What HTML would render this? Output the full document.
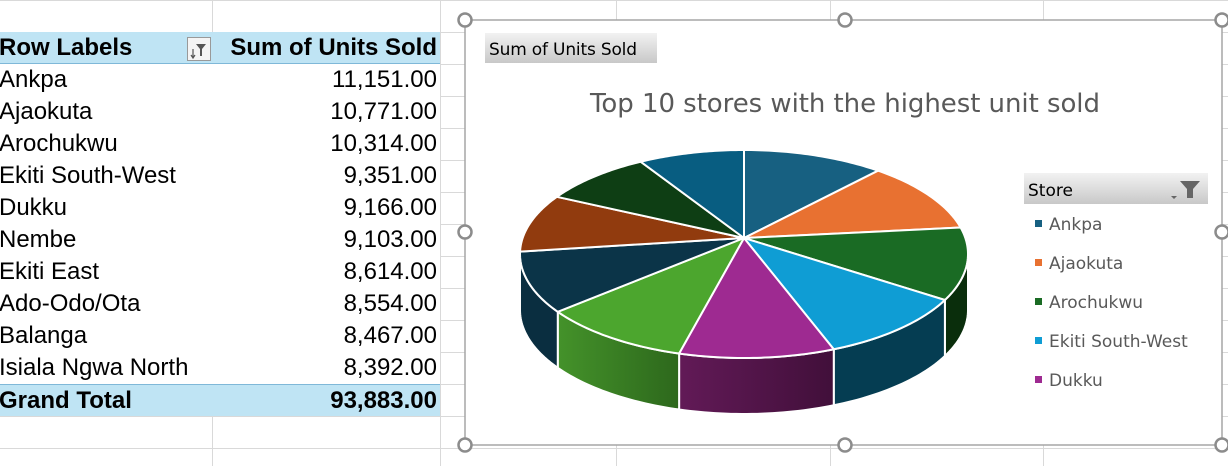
<!DOCTYPE html>
<html><head><meta charset="utf-8">
<style>
body{margin:0;width:1228px;height:466px;overflow:hidden;background:#fff;font-family:"Liberation Sans",Arial,sans-serif;position:relative}
.cell{position:absolute;left:0;width:440px;height:32px;font-size:24px;line-height:32px;color:#000;background:#fff}
.cell .l{position:absolute;left:-1px}
.cell .v{position:absolute;right:3px}
</style></head><body>
<svg width="1228" height="466" style="position:absolute;left:0;top:0">
<g stroke="#d9d9d9" stroke-width="1" id="grid"></g>
</svg>
<div id="table" style="position:absolute;left:0;top:0;width:440px;height:466px"></div>
<svg id="chart" width="1228" height="466" style="position:absolute;left:0;top:0">
<defs>
<linearGradient id="gPurple" x1="0" x2="1"><stop offset="0" stop-color="#621a57"/><stop offset="1" stop-color="#410f3a"/></linearGradient>
<linearGradient id="gGreen" x1="0" x2="1"><stop offset="0" stop-color="#44922a"/><stop offset="1" stop-color="#2d681c"/></linearGradient>
<linearGradient id="gBtn" x1="0" y1="0" x2="0" y2="1"><stop offset="0" stop-color="#f2f2f2"/><stop offset="1" stop-color="#c8c8c8"/></linearGradient>
</defs>
<rect x="465" y="20" width="757" height="425" fill="#fff" stroke="#a6a6a6" stroke-width="1.5"/>
<g>
<rect x="485" y="33" width="172" height="30" fill="url(#gBtn)"/>
<text x="489" y="55" font-size="17" fill="#000" font-family="DejaVu Sans, sans-serif" textLength="148">Sum of Units Sold</text></g>
<text x="845" y="112" text-anchor="middle" font-size="26" fill="#595959" font-family="DejaVu Sans, sans-serif" textLength="510">Top 10 stores with the highest unit sold</text>
<g id="sides"></g><g id="tops"></g>
<g>
<rect x="1024" y="173" width="184" height="31" fill="url(#gBtn)"/>
<text x="1028" y="196" font-size="17" fill="#000" font-family="DejaVu Sans, sans-serif">Store</text>
<path d="M1171 196 l6 0 l-3 3z M1180 181 h20 l-7 8 v9 h-6 v-9z" fill="#666"/></g>
<g id="legend"></g>
<g id="handles"></g>
</svg>
<script>
const stores=["Ankpa","Ajaokuta","Arochukwu","Ekiti South-West","Dukku","Nembe","Ekiti East","Ado-Odo/Ota","Balanga","Isiala Ngwa North"];
const units=[11151,10771,10314,9351,9166,9103,8614,8554,8467,8392];
const totalLabel="93,883.00";
const colors=["#176081","#e87131","#1a6b24","#0f9dd4","#9e2a91","#4ca62e","#0b3448","#913b0e","#0e3e14","#085d81"];
const sideColors=["#0f4660","#a4501f","#0a2e0c","#053d52","url(#gPurple)","url(#gGreen)","#0a2e40","#5e270a","#082a0c","#06405a"];
const NS="http://www.w3.org/2000/svg";
function mk(t,a,p){const e=document.createElementNS(NS,t);for(const k in a)e.setAttribute(k,a[k]);p.appendChild(e);return e;}
const grid=document.getElementById('grid');
for(let y=0;y<=466;y+=32){mk('line',{x1:0,x2:1228,y1:y+0.5,y2:y+0.5},grid);}
[212,440,616,830,1043,1228].forEach(x=>mk('line',{x1:x+0.5,x2:x+0.5,y1:0,y2:466},grid));
const tb=document.getElementById('table');
function row(y,l,v,bold,bg){const d=document.createElement('div');d.className='cell';d.style.top=y+'px';
 
 if(bg)d.style.background=bg;if(bold)d.style.fontWeight='bold';
 d.innerHTML='<span class="l">'+l+'</span><span class="v">'+v+'</span>';tb.appendChild(d);return d;}
const h=row(32,'Row Labels','Sum of Units Sold',true,'#bfe4f4');h.style.borderBottom='1px solid #7fb8d8';h.style.height='31px';
const fb=document.createElement('div');
fb.style.cssText='position:absolute;left:187px;top:5px;width:22px;height:22px;border:1px solid #999;background:#f4f4f4';
fb.innerHTML='<svg width="22" height="22"><path d="M8 5h10l-4 5v7h-2v-7z" fill="#555"/><path d="M5 10v8M3 16l2 3 2-3" stroke="#555" fill="none" stroke-width="1.2"/></svg>';h.appendChild(fb);
stores.forEach((s,i)=>row(64+i*32,s,units[i].toLocaleString('en-US',{minimumFractionDigits:2}),false));
const gt=row(384,'Grand Total',totalLabel,true,'#bfe4f4');gt.style.borderTop='1px solid #7fb8d8';gt.style.height='31px';
// pie
const cx=744,cy=254,rx=224,ry=104,depth=56,ax=744,ay=238;
const tot=units.reduce((a,b)=>a+b,0);
const P=(t,d)=>[cx+rx*Math.sin(t),cy-ry*Math.cos(t)+(d||0)];
// parametric angle of rim point hit by ray from apex in slice direction
function rimAng(th){
 const dx=rx*Math.sin(th),dy=-ry*Math.cos(th),oy=ay-cy;
 const A=(dx/rx)**2+(dy/ry)**2,B=2*oy*dy/ry/ry,C=(oy/ry)**2-1;
 const t=(-B+Math.sqrt(B*B-4*A*C))/(2*A);
 const x=dx*t,y=oy+dy*t;
 let p=Math.atan2(x/rx,-y/ry);if(p<0)p+=2*Math.PI;if(th>=2*Math.PI-1e-9)p=2*Math.PI;if(th<=1e-9)p=0;return p;}
const sides=document.getElementById('sides'),tops=document.getElementById('tops');
let a=0;
units.forEach((u,i)=>{
 const b=a+u/tot*2*Math.PI;
 const pa=rimAng(a),pb=rimAng(b);
 const s0=Math.max(pa,Math.PI/2),s1=Math.min(pb,3*Math.PI/2);
 if(s1>s0){let pts=[];const n=30;
  for(let k=0;k<=n;k++)pts.push(P(s0+(s1-s0)*k/n));
  for(let k=n;k>=0;k--)pts.push(P(s0+(s1-s0)*k/n,depth));
  const e=mk('polygon',{points:pts.map(p=>p.join(',')).join(' '),fill:sideColors[i],stroke:'#fff','stroke-width':2},sides);
  }
 let pts=[[ax,ay]];const n=40;
 for(let k=0;k<=n;k++)pts.push(P(pa+(pb-pa)*k/n));
 const e=mk('polygon',{points:pts.map(p=>p.join(',')).join(' '),fill:colors[i],stroke:'#fff','stroke-width':2,'stroke-linejoin':'round'},tops);
 
 a=b;});
const lg=document.getElementById('legend');
for(let i=0;i<5;i++){const y=224+i*39;
 const g=mk('g',{},lg);
 mk('rect',{x:1035,y:y-4,width:7,height:7,fill:colors[i]},g);
 const t=mk('text',{x:1049,y:y+6,'font-size':17,fill:'#595959','font-family':'DejaVu Sans, sans-serif'},g);t.textContent=stores[i];}
const hd=document.getElementById('handles');
[[465,20],[845,20],[1222,20],[465,232],[1222,232],[465,445],[845,445],[1222,445]].forEach(p=>{
 const c=mk('circle',{cx:p[0],cy:p[1],r:6.5,fill:'#fff',stroke:'#8c8c8c','stroke-width':2.5},hd);
 });
</script>
</body></html>
